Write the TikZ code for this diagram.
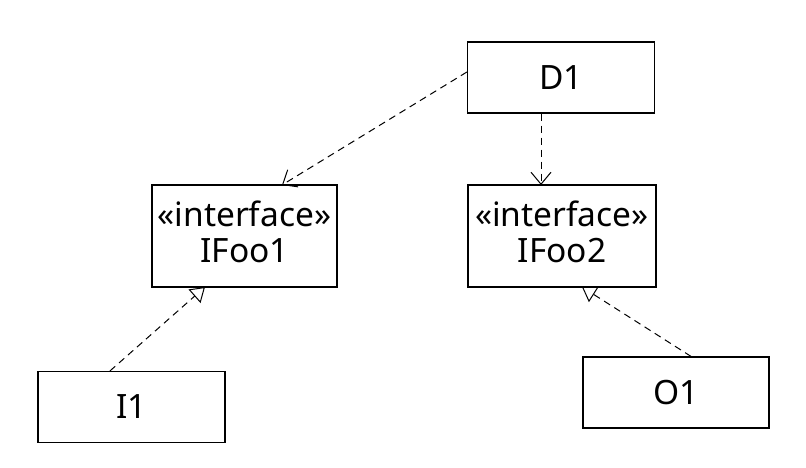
\documentclass[tikz,border=0pt]{standalone}
\usepackage{fontspec}
\setmainfont{Noto Sans}
\usetikzlibrary{arrows.meta}
\begin{document}
\begin{tikzpicture}[x=1pt,y=-1pt,
  lbl/.style={font=\fontsize{33.5}{36}\selectfont,align=center,inner sep=0pt},
  box/.style={draw,line width=1.2pt,minimum width=187pt,minimum height=71pt,inner sep=0pt,lbl},
  dep/.style={draw,line width=1pt,dash pattern=on 7pt off 5pt,-{Straight Barb[length=12pt,width=20pt,line width=1pt]}},
  real/.style={draw,line width=1pt,dash pattern=on 7pt off 5pt,-{Triangle[open,length=14pt,width=18pt,line width=1pt]}}]
\useasboundingbox (0,0) rectangle (806,468);
\node[box] (d1) at (561,77.5) {D1};
\node[box,minimum width=185pt,minimum height=102pt] (if1) at (244.5,236) {};
\node[lbl] (if1t) at ([yshift=4pt]if1.center) {«interface»\\IFoo1};
\node[box,minimum width=188pt,minimum height=102pt] (if2) at (562,236) {};
\node[lbl] (if2t) at ([yshift=4pt]if2.center) {«interface»\\IFoo2};
\node[box] (i1) at (131.5,407) {I1};
\node[box,minimum width=186pt] (o1) at (676,392.5) {O1};
\coordinate (a1) at (282,185);
\coordinate (a2) at (541,185);
\coordinate (a3) at (205,287);
\coordinate (a4) at (582,287);
\draw[dep] (d1.west |- 0,72) -- (a1);
\draw[dep] (d1.south -| a2) -- (a2);
\draw[real] (i1.north -| 110,0) -- (a3);
\draw[real] (o1.north -| 691,0) -- (a4);
\end{tikzpicture}
\end{document}
